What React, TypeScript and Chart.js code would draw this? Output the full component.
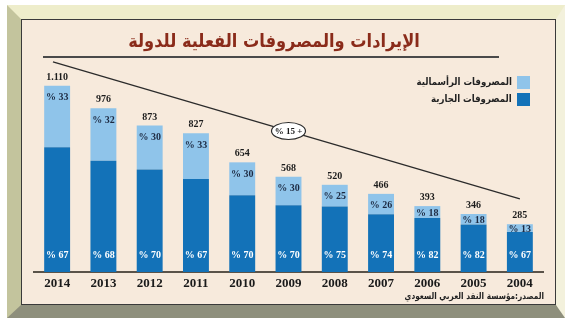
import React, { useEffect, useRef } from 'react';
import { Chart, registerables } from 'chart.js';

Chart.register(...registerables);

// ---- data ----
const years = ['2014', '2013', '2012', '2011', '2010', '2009', '2008', '2007', '2006', '2005', '2004'];
const totalLabels = ['1.110', '976', '873', '827', '654', '568', '520', '466', '393', '346', '285'];
const currentSpend = [744, 664, 611, 554, 458, 398, 390, 345, 322, 284, 239];
const capitalSpend = [366, 312, 262, 273, 196, 170, 130, 121, 71, 62, 46];
const currentPct = [67, 68, 70, 67, 70, 70, 75, 74, 82, 82, 67];
const capitalPct = [33, 32, 30, 33, 30, 30, 25, 26, 18, 18, 13];

const titleText = 'الإيرادات والمصروفات الفعلية للدولة';
const legendCapital = 'المصروفات الرأسمالية';
const legendCurrent = 'المصروفات الجارية';
const sourceText = 'المصدر:مؤسسة النقد العربي السعودي';

// trend annotation (category index, value)
const trendStart = { index: -0.09, value: 1253 };
const trendEnd = { index: 10, value: 436 };
const trendBadgeIndex = 5;
const trendBadgeText = '% 15 +';

const DARK = '#1372b8';
const LIGHT = '#8fc4ea';

const labelsPlugin = {
  id: 'barLabels',
  afterDatasetsDraw(chart: any) {
    const ctx = chart.ctx;
    const darkMeta = chart.getDatasetMeta(0);
    const lightMeta = chart.getDatasetMeta(1);
    const xs = chart.scales.x;
    const ys = chart.scales.y;
    const base = ys.getPixelForValue(0);
    ctx.save();
    ctx.textAlign = 'center';
    ctx.textBaseline = 'middle';
    years.forEach((_, i) => {
      const light = lightMeta.data[i];
      const dark = darkMeta.data[i];
      const top = light.y;
      const mid = dark.y;
      const x = light.x;
      ctx.font = 'bold 10px "Liberation Serif"';
      ctx.fillStyle = '#1c1c1c';
      ctx.fillText(totalLabels[i], x, top - 8.5);
      ctx.fillStyle = '#1d2a42';
      const cy = Math.min(top + 12, (top + mid) / 2 + 1);
      ctx.fillText('% ' + capitalPct[i], x, cy);
      ctx.fillStyle = '#ffffff';
      ctx.fillText('% ' + currentPct[i], x, base - 17);
    });

    // trend line
    const x1 = xs.getPixelForValue(trendStart.index);
    const y1 = ys.getPixelForValue(trendStart.value);
    const x2 = xs.getPixelForValue(trendEnd.index);
    const y2 = ys.getPixelForValue(trendEnd.value);
    ctx.strokeStyle = '#2b2b2b';
    ctx.lineWidth = 1.3;
    ctx.beginPath();
    ctx.moveTo(x1, y1);
    ctx.lineTo(x2, y2);
    ctx.stroke();

    const bx = xs.getPixelForValue(trendBadgeIndex);
    const by = y1 + ((bx - x1) / (x2 - x1)) * (y2 - y1);
    ctx.beginPath();
    ctx.ellipse(bx, by, 17, 8.5, 0, 0, Math.PI * 2);
    ctx.fillStyle = '#ffffff';
    ctx.fill();
    ctx.lineWidth = 1.2;
    ctx.strokeStyle = '#2b2b2b';
    ctx.stroke();
    ctx.fillStyle = '#1c1c1c';
    ctx.font = 'bold 9px "Liberation Serif"';
    ctx.fillText(trendBadgeText, bx, by + 0.5);
    ctx.restore();
  },
};

export default function App() {
  const canvasRef = useRef<HTMLCanvasElement | null>(null);

  useEffect(() => {
    const canvas = canvasRef.current;
    if (!canvas) return;
    const chart = new Chart(canvas, {
      type: 'bar',
      data: {
        labels: years,
        datasets: [
          { label: legendCurrent, data: currentSpend, backgroundColor: DARK, barPercentage: 0.56, categoryPercentage: 1 },
          { label: legendCapital, data: capitalSpend, backgroundColor: LIGHT, barPercentage: 0.56, categoryPercentage: 1 },
        ],
      },
      options: {
        responsive: false,
        animation: false,
        devicePixelRatio: 1,
        layout: { padding: { left: 34, right: 27, top: 54, bottom: 27 } },
        plugins: {
          legend: { display: false },
          tooltip: { enabled: false },
          title: { display: false },
        },
        scales: {
          x: {
            stacked: true,
            grid: { display: false, drawTicks: false },
            border: { display: true, color: '#5a5349', width: 2 },
            ticks: {
              color: '#1a1a1a',
              font: { family: '"Liberation Serif"', weight: 'bold', size: 13 },
              padding: 4,
              maxRotation: 0,
              autoSkip: false,
            },
            afterFit: (s: any) => {
              s.height = 24;
            },
          },
          y: {
            stacked: true,
            display: false,
            min: 0,
            max: 1300,
          },
        },
      },
      plugins: [labelsPlugin],
    } as any);
    return () => chart.destroy();
  }, []);

  const abs: React.CSSProperties = { position: 'absolute' };
  const arabic: React.CSSProperties = {
    fontFamily: '"DejaVu Sans", sans-serif',
    fontWeight: 'bold',
    whiteSpace: 'nowrap',
  };

  return (
    <div style={{ position: 'fixed', left: 0, top: 0, width: 570, height: 323, background: '#ffffff', overflow: 'hidden' }}>
      <div
        style={{
          ...abs,
          left: 7,
          top: 5,
          width: 558,
          height: 313,
          boxSizing: 'border-box',
          borderTop: '14px solid #eeedcb',
          borderLeft: '14px solid #c3c49d',
          borderRight: '9px solid #f3f1dc',
          borderBottom: '13px solid #8e8f7c',
        }}
      >
        <div
          style={{
            width: '100%',
            height: '100%',
            boxSizing: 'border-box',
            border: '1px solid #3a3a3a',
            background: '#f7eadc',
          }}
        />
      </div>
      <canvas ref={canvasRef} width={570} height={323} style={{ ...abs, left: 0, top: 0, width: 570, height: 323 }} />
      <div
        dir="rtl"
        style={{
          ...abs,
          ...arabic,
          left: 0,
          top: 29,
          width: 548,
          textAlign: 'center',
          fontSize: 18,
          lineHeight: '24px',
          color: '#8a2b1a',
          transform: 'scaleX(0.9)',
          transformOrigin: '274px 50%',
        }}
      >
        {titleText}
      </div>
      <div style={{ ...abs, left: 43, top: 56, width: 456, height: 2, background: '#4a4a4a' }} />
      <div
        dir="rtl"
        style={{
          ...abs,
          ...arabic,
          right: 58,
          top: 75,
          fontSize: 10,
          lineHeight: '14px',
          color: '#222',
          transform: 'scaleX(0.86)',
          transformOrigin: '100% 50%',
        }}
      >
        {legendCapital}
      </div>
      <div
        dir="rtl"
        style={{
          ...abs,
          ...arabic,
          right: 58,
          top: 92,
          fontSize: 10,
          lineHeight: '14px',
          color: '#222',
          transform: 'scaleX(0.86)',
          transformOrigin: '100% 50%',
        }}
      >
        {legendCurrent}
      </div>
      <div style={{ ...abs, left: 517, top: 76, width: 13, height: 13, background: LIGHT }} />
      <div style={{ ...abs, left: 517, top: 93, width: 13, height: 13, background: DARK }} />
      <div
        dir="rtl"
        style={{
          ...abs,
          ...arabic,
          right: 26,
          top: 289,
          fontSize: 9,
          lineHeight: '14px',
          color: '#222',
          transform: 'scaleX(0.82)',
          transformOrigin: '100% 50%',
        }}
      >
        {sourceText}
      </div>
    </div>
  );
}
